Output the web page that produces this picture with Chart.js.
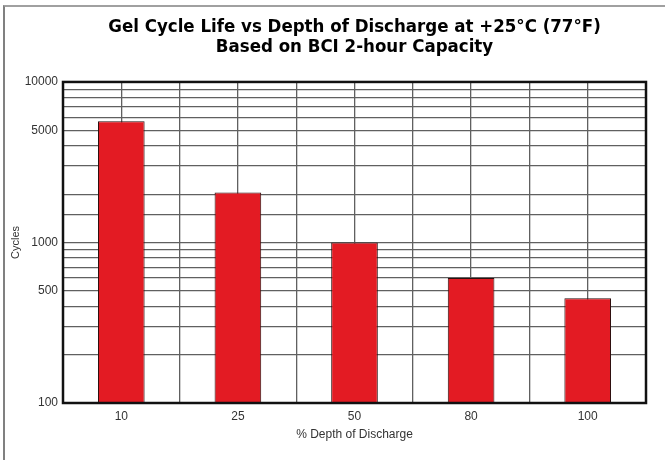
<!DOCTYPE html>
<html>
<head>
<meta charset="utf-8">
<script src="https://cdn.jsdelivr.net/npm/chart.js@4.4.1/dist/chart.umd.min.js"></script>
<style>
  html, body { margin: 0; padding: 0; background: #fff; }
  #wrap { position: relative; width: 665px; height: 460px; }
  #frame { position: absolute; left: 3px; top: 5px; right: 0; bottom: 0;
           border-top: 2px solid #a0a0a0; border-left: 2px solid #808080; }
  canvas { position: absolute; left: 0; top: 0; }
</style>
</head>
<body>
<div id="wrap">
  <div id="frame"></div>
  <canvas id="chart" width="665" height="460"></canvas>
</div>
<script>
// ---- data ----
var depthLabels = ["10", "25", "50", "80", "100"];
var cycleValues = [5700, 2050, 1000, 600, 450];
var yTickLabels = [100, 500, 1000, 5000, 10000];

var titleLines = ["Gel Cycle Life vs Depth of Discharge at +25\u00B0C (77\u00B0F)",
                  "Based on BCI 2-hour Capacity"];

var gridColor = "#606060";
var tickFont = { family: "'Liberation Sans', Arial, sans-serif", size: 12 };

// thick black box round the plot area
var plotBorder = {
    id: "plotBorder",
    afterDraw: function (chart) {
        var a = chart.chartArea, ctx = chart.ctx;
        ctx.save();
        ctx.strokeStyle = "#111";
        ctx.lineWidth = 2.5;
        ctx.strokeRect(a.left, a.top, a.right - a.left, a.bottom - a.top);
        ctx.restore();
    }
};

new Chart(document.getElementById("chart"), {
    type: "bar",
    data: {
        labels: depthLabels,
        datasets: [{
            label: "Cycles",
            data: cycleValues,
            backgroundColor: "#e31b23",
            borderColor: "#2a1010",
            borderWidth: 1,
            borderSkipped: false,
            barPercentage: 0.4,
            categoryPercentage: 1.0
        }]
    },
    options: {
        responsive: false,
        animation: false,
        layout: { padding: { left: 0, right: 19, top: 0, bottom: 0 } },
        plugins: {
            legend: { display: false },
            tooltip: { enabled: false },
            title: {
                display: true,
                fullSize: false,   // centre over the plot, not the whole canvas
                text: titleLines,
                color: "#000",
                font: { family: "'Liberation Sans Narrow', 'DejaVu Sans Condensed', sans-serif", size: 18.5, weight: "bold", lineHeight: 1.08 },
                padding: { top: 17, bottom: 25 }
            }
        },
        scales: {
            x: {
                grid: { display: false, drawTicks: false },
                border: { display: false },
                ticks: { color: "#333", font: tickFont, padding: 6 },
                title: { display: true, text: "% Depth of Discharge", color: "#333",
                         font: tickFont, padding: { top: 0, bottom: 18 } },
                afterFit: function (s) { s.height = 57; }
            },
            // extra axis only to draw vertical lines at centers and edges
            x2: {
                type: "linear",
                position: "bottom",
                offset: false,
                min: 0, max: 5,
                ticks: { display: false, stepSize: 0.5 },
                grid: { color: gridColor, lineWidth: 1.3, drawTicks: false, offset: false },
                border: { display: false },
                afterFit: function (s) { s.height = 0; }
            },
            y: {
                type: "logarithmic",
                min: 100,
                max: 10000,
                grid: { color: gridColor, lineWidth: 1.3, drawTicks: false },
                border: { display: false },
                ticks: {
                    color: "#333",
                    font: tickFont,
                    padding: 5,
                    autoSkip: false,
                    callback: function (value) {
                        return yTickLabels.indexOf(value) >= 0 ? String(value) : "";
                    }
                },
                title: { display: true, text: "Cycles", color: "#333",
                         font: { family: "'Liberation Sans', Arial, sans-serif", size: 11 },
                         padding: { top: 9, bottom: 0 } },
                afterFit: function (s) { s.width = 63; }
            }
        }
    },
    plugins: [plotBorder]
});
</script>
</body>
</html>
